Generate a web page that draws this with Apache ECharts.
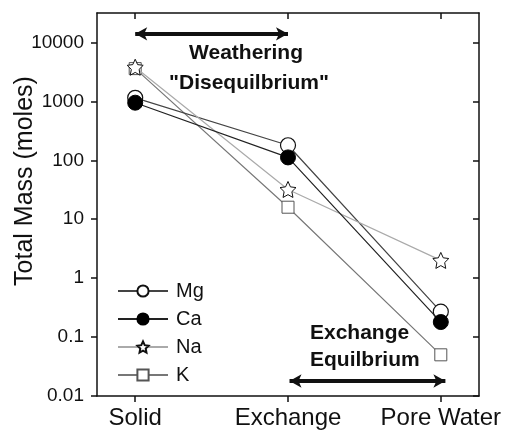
<!DOCTYPE html>
<html>
<head>
<meta charset="utf-8">
<script src="https://cdn.jsdelivr.net/npm/echarts@6/dist/echarts.min.js"></script>
<style>
  html, body { margin: 0; padding: 0; background: #fff; }
  #chart { width: 513px; height: 438px; }
</style>
</head>
<body>
<div id="chart"></div>
<script>
// Reservoirs along the x axis
const categories = ['Solid', 'Exchange', 'Pore Water'];
// Total mass (moles) per cation in each reservoir
const mg = [1150, 180, 0.27];
const ca = [950, 112, 0.18];
const na = [3800, 32, 2];
const k  = [3600, 16, 0.05];
// Log-axis tick positions
const yTicks = [0.01, 0.1, 1, 10, 100, 1000, 10000];

const FONT = '"Liberation Sans", Arial, sans-serif';
const STAR = 'path://M0,-10 L2.9,-3.9 L9.51,-3.09 L4.6,1.5 L5.88,8.09 L0,4.9 L-5.88,8.09 L-4.6,1.5 L-9.51,-3.09 L-2.9,-3.9 Z';

const toPoints = vals => vals.map((v, i) => [i, v]);

const chart = echarts.init(document.getElementById('chart'), null, { renderer: 'canvas' });

const axisLineStyle = { color: '#111', width: 1.5 };

const option = {
  animation: false,
  backgroundColor: '#fff',
  grid: { left: 97, right: 34, top: 13, bottom: 42 },
  xAxis: [{
    type: 'value', min: -0.25, max: 2.25, position: 'bottom',
    splitLine: { show: false },
    axisLine: { onZero: false, lineStyle: axisLineStyle },
    axisTick: { inside: false, length: 6, lineStyle: axisLineStyle, customValues: [0, 1, 2] },
    axisLabel: {
      customValues: [0, 1, 2], margin: 10,
      formatter: v => categories[Math.round(v)],
      color: '#111', fontSize: 24, fontFamily: FONT
    }
  }, {
    type: 'value', min: -0.25, max: 2.25, position: 'top',
    splitLine: { show: false },
    axisLine: { onZero: false, lineStyle: axisLineStyle },
    axisTick: { inside: true, length: 6, lineStyle: axisLineStyle, customValues: [0, 1, 2] },
    axisLabel: { show: false }
  }],
  yAxis: [{
    type: 'log', logBase: 10, min: 0.01, max: 31623, position: 'left',
    splitLine: { show: false },
    axisLine: { show: true, onZero: false, lineStyle: axisLineStyle },
    axisTick: { show: true, inside: false, length: 6, lineStyle: axisLineStyle, customValues: yTicks },
    axisLabel: {
      customValues: yTicks, margin: 13,
      formatter: v => String(v),
      color: '#111', fontSize: 19, fontFamily: FONT
    }
  }, {
    type: 'log', logBase: 10, min: 0.01, max: 31623, position: 'right',
    splitLine: { show: false },
    axisLine: { show: true, onZero: false, lineStyle: axisLineStyle },
    axisTick: { show: true, inside: true, length: 6, lineStyle: axisLineStyle, customValues: yTicks },
    axisLabel: { show: false }
  }],
  legend: {
    orient: 'vertical', left: 112, top: 276,
    itemWidth: 50, itemHeight: 14, itemGap: 8,
    data: ['Mg', 'Ca', 'Na', 'K'],
    textStyle: { color: '#111', fontSize: 20, fontFamily: FONT, padding: [0, 0, 0, 3] }
  },
  series: [
    {
      name: 'Mg', type: 'line', data: toPoints(mg), z: 3,
      symbol: 'circle', symbolSize: 15,
      itemStyle: { color: '#fff', borderColor: '#111', borderWidth: 1.2 },
      lineStyle: { color: '#444', width: 1.2 }
    },
    {
      name: 'Ca', type: 'line', data: toPoints(ca), z: 4,
      symbol: 'circle', symbolSize: 15,
      itemStyle: { color: '#000', borderColor: '#000', borderWidth: 1 },
      lineStyle: { color: '#222', width: 1.2 }
    },
    {
      name: 'Na', type: 'line', data: toPoints(na), z: 3,
      symbol: STAR, symbolSize: 16,
      itemStyle: { color: '#fff', borderColor: '#111', borderWidth: 1 },
      lineStyle: { color: '#aaa', width: 1.2 }
    },
    {
      name: 'K', type: 'line', data: toPoints(k), z: 2,
      symbol: 'rect', symbolSize: 12,
      itemStyle: { color: '#fff', borderColor: '#555', borderWidth: 1 },
      lineStyle: { color: '#777', width: 1.2 }
    },
    {
      // double-headed arrows marking the two process ranges
      name: 'ranges', type: 'line', data: [], silent: true,
      markLine: {
        silent: true, animation: false,
        symbol: ['arrow', 'arrow'], symbolSize: [10, 12],
        label: { show: false },
        lineStyle: { color: '#111', width: 4, type: 'solid' },
        data: [
          [{ coord: [0, 14000] }, { coord: [1, 14000] }],
          [{ coord: [1.01, 0.018] }, { coord: [2.03, 0.018] }]
        ]
      }
    }
  ],
  graphic: [
    {
      type: 'text', x: 25, y: 181, rotation: Math.PI / 2,
      style: { text: 'Total Mass (moles)', font: '25px ' + FONT, fill: '#111', align: 'center', verticalAlign: 'middle' }
    },
    {
      type: 'text', x: 246, y: 53,
      style: { text: 'Weathering', font: 'bold 21px ' + FONT, fill: '#111', align: 'center', verticalAlign: 'middle' }
    },
    {
      type: 'text', x: 249, y: 83,
      style: { text: '"Disequilbrium"', font: 'bold 21px ' + FONT, fill: '#111', align: 'center', verticalAlign: 'middle' }
    },
    {
      type: 'text', x: 310, y: 333,
      style: { text: 'Exchange', font: 'bold 21px ' + FONT, fill: '#111', align: 'left', verticalAlign: 'middle' }
    },
    {
      type: 'text', x: 310, y: 360,
      style: { text: 'Equilbrium', font: 'bold 21px ' + FONT, fill: '#111', align: 'left', verticalAlign: 'middle' }
    }
  ]
};

chart.setOption(option);
</script>
</body>
</html>
